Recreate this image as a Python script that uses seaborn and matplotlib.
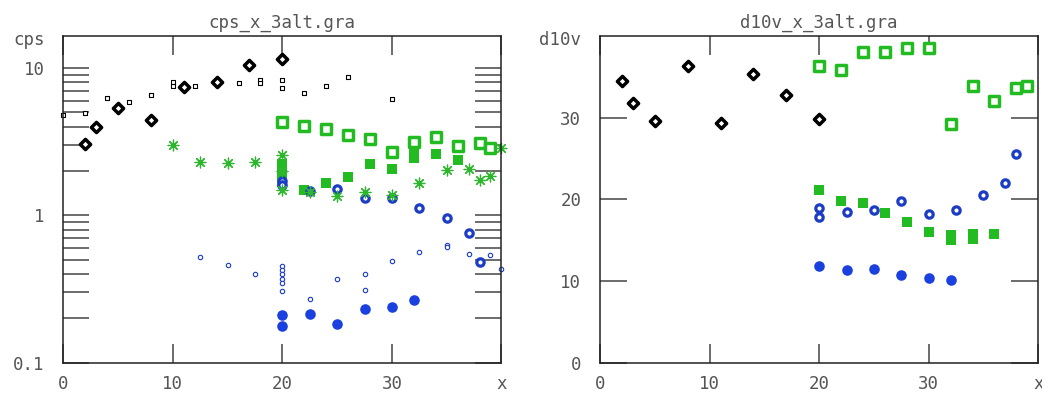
import pandas as pd
import seaborn as sns
import matplotlib.pyplot as plt
from matplotlib.ticker import LogLocator, NullFormatter, FixedLocator

sns.set_style('white')
plt.rcParams['font.family'] = ['DejaVu Sans Mono', 'DejaVu Sans']

GREEN = '#22bb22'
BLUE = '#1c3cc4'
BLUE_FILL = '#1a40e0'
TEXT = '#555555'

# black diamonds (both panels)
diam_x = [2, 3, 5, 8, 11, 14, 17, 20]
cps_diam = [3.07, 4.0, 5.33, 4.47, 7.49, 8.0, 10.5, 11.55]
d10v_diam = [34.5, 31.8, 29.6, 36.3, 29.3, 35.4, 32.8, 29.9]

# small black open squares (cps only)
sq_small_x = [0, 2, 4, 6, 8, 10, 10, 12, 16, 18, 18, 20, 20, 22, 24, 26, 30]
cps_sq_small = [4.78, 4.93, 6.3, 5.86, 6.53, 8.0, 7.5, 7.57, 7.89, 8.3, 7.9,
                8.31, 7.29, 6.79, 7.6, 8.75, 6.21]

# green open squares
green_open_x = [20, 22, 24, 26, 28, 30, 32, 34, 36, 38, 39]
cps_green_open = [4.33, 4.03, 3.87, 3.52, 3.31, 2.71, 3.17, 3.43, 2.96, 3.08,
                  2.87]
d10v_green_open = [36.3, 35.8, 38.1, 38.0, 38.5, 38.5, 29.2, 33.9, 32.0, 33.6,
                   33.9]

# green filled squares
cps_green_fill_x = [20, 20, 20, 20, 22, 24, 26, 28, 30, 32, 32, 34, 36]
cps_green_fill = [2.24, 2.04, 1.86, 1.69, 1.49, 1.66, 1.81, 2.23, 2.07, 2.75,
                  2.47, 2.61, 2.39]
d10v_green_fill_x = [20, 22, 24, 26, 28, 30, 32, 32, 34, 34, 36]
d10v_green_fill = [21.2, 19.8, 19.6, 18.3, 17.2, 16.0, 15.0, 15.6, 15.2, 15.8,
                   15.8]

# green asterisks (cps only)
ast_x = [10, 12.5, 15, 17.5, 20, 20, 20, 22.5, 25, 27.5, 30, 32.5, 35, 37, 38,
         39, 40]
cps_ast = [3.0, 2.29, 2.27, 2.32, 2.55, 2.0, 1.49, 1.45, 1.36, 1.43, 1.38,
           1.66, 2.04, 2.08, 1.75, 1.86, 2.87]

# blue open circles
blue_open_x = [20, 20, 22.5, 25, 27.5, 30, 32.5, 35, 37, 38]
cps_blue_open = [1.72, 1.62, 1.47, 1.50, 1.32, 1.32, 1.12, 0.96, 0.76, 0.48]
d10v_blue_open = [18.9, 17.9, 18.45, 18.7, 19.8, 18.2, 18.7, 20.5, 22.0, 25.6]

# small blue open circles (cps only)
blue_small_x = [12.5, 15, 17.5, 20, 20, 20, 20, 20, 20, 22.5, 25, 27.5, 27.5,
                30, 32.5, 35, 35, 37, 39, 40]
cps_blue_small = [0.524, 0.462, 0.40, 0.455, 0.428, 0.399, 0.372, 0.347,
                  0.305, 0.272, 0.372, 0.40, 0.314, 0.487, 0.567, 0.632,
                  0.610, 0.547, 0.535, 0.436]

# blue filled circles
cps_blue_fill_x = [20, 20, 22.5, 25, 27.5, 30, 32]
cps_blue_fill = [0.21, 0.178, 0.215, 0.182, 0.231, 0.239, 0.267]
d10v_blue_fill_x = [20, 22.5, 25, 27.5, 30, 32]
d10v_blue_fill = [11.9, 11.4, 11.5, 10.7, 10.4, 10.1]

STYLES = {
    'diam': dict(marker='D', s=27, facecolor='white', edgecolor='black',
                 linewidth=2.5),
    'sq_small': dict(marker='s', s=9, facecolor='white', edgecolor='black',
                     linewidth=0.8),
    'green_open': dict(marker='s', s=44, facecolor='white', edgecolor=GREEN,
                       linewidth=2.5),
    'green_fill': dict(marker='s', s=50, color=GREEN, linewidth=0),
    'ast': dict(marker=(8, 2, 0), s=60, color='#2fb62f', linewidth=0.9),
    'blue_open': dict(marker='o', s=28, facecolor='white', edgecolor=BLUE,
                      linewidth=2.3),
    'blue_small': dict(marker='o', s=10, facecolor='white', edgecolor=BLUE,
                       linewidth=0.8),
    'blue_fill': dict(marker='o', s=58, color=BLUE_FILL, linewidth=0),
}


def draw(ax, x, y, style):
    df = pd.DataFrame({'x': x, 'y': y})
    sns.scatterplot(data=df, x='x', y='y', ax=ax, legend=False,
                    clip_on=False, **STYLES[style])


def frame(ax, ylabel, title, ylen):
    for sp in ax.spines.values():
        sp.set_visible(True)
        sp.set_color('#222222')
        sp.set_linewidth(1.1)
    ax.set_xlim(0, 40)
    ax.xaxis.set_major_locator(FixedLocator([0, 10, 20, 30, 40]))
    ax.set_xticklabels(['0', '10', '20', '30', 'x'])
    ax.tick_params(axis='x', which='major', direction='in', top=True,
                   bottom=True, length=13.7, width=1.1, color='#444444',
                   pad=9, labelsize=12.5, labelcolor=TEXT)
    ax.tick_params(axis='y', which='both', direction='in', left=True,
                   right=True, length=ylen, width=1.1, color='#444444',
                   pad=13.5, labelsize=12.5, labelcolor=TEXT)
    ax.set_xlabel('')
    ax.set_ylabel('')
    ax.set_title(title, fontsize=12.5, color=TEXT, pad=6)
    ax.annotate(ylabel, xy=(0, 1), xycoords='axes fraction',
                xytext=(-13.5, -3), textcoords='offset points', ha='right',
                va='center', fontsize=12.5, color=TEXT)


def cps_plot(ax):
    draw(ax, sq_small_x, cps_sq_small, 'sq_small')
    draw(ax, diam_x, cps_diam, 'diam')
    draw(ax, cps_green_fill_x, cps_green_fill, 'green_fill')
    draw(ax, green_open_x, cps_green_open, 'green_open')
    draw(ax, cps_blue_fill_x, cps_blue_fill, 'blue_fill')
    draw(ax, blue_open_x, cps_blue_open, 'blue_open')
    draw(ax, blue_small_x, cps_blue_small, 'blue_small')
    draw(ax, ast_x, cps_ast, 'ast')

    ax.set_yscale('log')
    ax.set_ylim(0.1, 16.5)
    ax.yaxis.set_major_locator(FixedLocator([0.1, 1, 10]))
    ax.set_yticklabels(['0.1', '1', '10'])
    ax.yaxis.set_minor_locator(LogLocator(base=10, subs=range(2, 10)))
    ax.yaxis.set_minor_formatter(NullFormatter())
    frame(ax, 'cps', 'cps_x_3alt.gra', 18.7)


def d10v_plot(ax):
    draw(ax, diam_x, d10v_diam, 'diam')
    draw(ax, d10v_green_fill_x, d10v_green_fill, 'green_fill')
    draw(ax, green_open_x, d10v_green_open, 'green_open')
    draw(ax, d10v_blue_fill_x, d10v_blue_fill, 'blue_fill')
    draw(ax, blue_open_x, d10v_blue_open, 'blue_open')

    ax.set_ylim(0, 40)
    ax.yaxis.set_major_locator(FixedLocator([0, 10, 20, 30]))
    ax.set_yticklabels(['0', '10', '20', '30'])
    frame(ax, 'd10v', 'd10v_x_3alt.gra', 19.4)


def main():
    fig, [ax1, ax2] = plt.subplots(1, 2, figsize=(10.42, 3.94), dpi=100)
    plt.subplots_adjust(left=0.0607, right=0.9964, bottom=0.0794,
                        top=0.9086, wspace=0.225)
    cps_plot(ax1)
    d10v_plot(ax2)
    fig.savefig('out.png', dpi=100)


if __name__ == '__main__':
    main()
